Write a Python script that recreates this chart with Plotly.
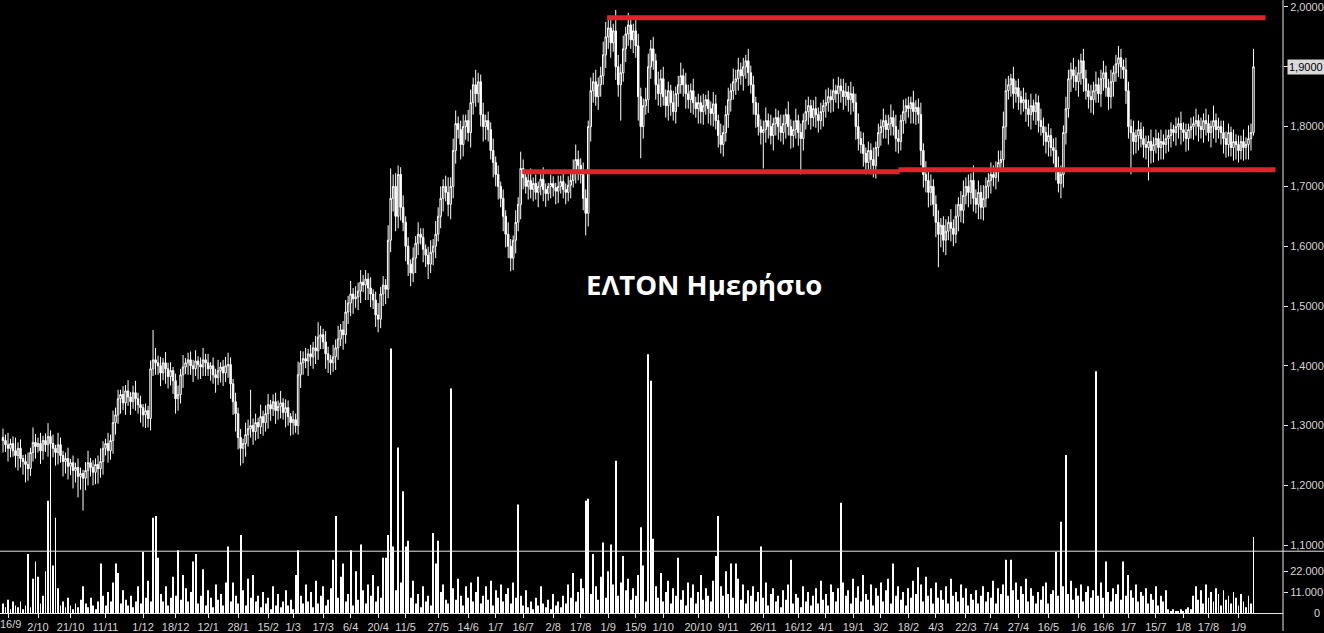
import plotly.graph_objects as go

# ---------------- data (prices in thousandths of a euro, volume in thousands) ----------------
first_open = 1280

close = [
    # 2019 Q4
    1275, 1268, 1262, 1270, 1258, 1250, 1262, 1245, 1240, 1235, 1228, 1255, 1272,
    1265, 1270, 1258, 1275, 1268, 1282, 1270, 1262, 1255, 1268, 1250, 1240, 1245, 1232,
    1238, 1225, 1230, 1215, 1220, 1212, 1225, 1238, 1230, 1222, 1235, 1228,
    1240, 1262, 1270, 1258, 1275, 1305, 1318,
    1345, 1352, 1338, 1358, 1348, 1340, 1355, 1345, 1335, 1330, 1318, 1325, 1312,
    1395, 1410, 1405, 1400, 1388, 1405, 1395, 1382, 1392, 1375, 1345, 1352,
    1385, 1398, 1405, 1410, 1400, 1395, 1408, 1402, 1398, 1410, 1405, 1395, 1400, 1385,
    1380, 1392, 1398, 1388, 1400, 1402,
    1370, 1340, 1320, 1280, 1262, 1270, 1285, 1295, 1300, 1290, 1305, 1298,
    # 2020 H1
    1315, 1305, 1320, 1335, 1328, 1340, 1325, 1332, 1338, 1322, 1330,
    1315, 1305, 1310, 1300, 1385, 1405, 1412, 1408,
    1420, 1415, 1430, 1425, 1448, 1452, 1440, 1420, 1410, 1405, 1415,
    1430, 1445, 1460, 1452, 1490, 1505, 1520, 1512,
    1515, 1525, 1540, 1535, 1545, 1530, 1520, 1510, 1485, 1478, 1520, 1535, 1528,
    1610, 1680, 1700, 1650, 1720, 1665, 1640, 1600, 1570, 1555,
    1580, 1605, 1620, 1615, 1595, 1585, 1570, 1590, 1600,
    1620, 1650, 1680, 1700, 1690, 1670, 1700, 1760, 1805,
    1795, 1770, 1800, 1810, 1790, 1840, 1870, 1855, 1875,
    1820, 1800, 1810, 1795, 1760, 1740, 1720, 1700, 1680,
    1650, 1620, 1600, 1580, 1610, 1640, 1670,
    # 2020 H2
    1730, 1715,
    1700, 1710, 1695, 1705, 1690, 1700, 1712, 1695, 1688, 1700, 1705, 1698, 1692, 1700,
    1708, 1695, 1690, 1702, 1710,
    1725, 1745, 1735, 1720, 1680, 1655, 1800,
    1860, 1875, 1850, 1870, 1885, 1920, 1950, 1965, 1940, 1960,
    1900, 1870, 1890, 1930, 1955, 1970, 1945, 1960, 1935,
    1850, 1800, 1835, 1845, 1900, 1930, 1910, 1870, 1855, 1880,
    1850, 1835, 1860, 1840, 1825, 1855, 1870, 1885,
    1870, 1855, 1845, 1860, 1840,
    1830, 1840, 1825, 1835, 1845, 1830, 1822, 1838,
    1810, 1785, 1770, 1790, 1820, 1845, 1860, 1875,
    1880, 1895, 1885, 1900, 1910, 1890, 1870,
    1840, 1820, 1800, 1790, 1795, 1810, 1800, 1785, 1805, 1815, 1800,
    # 2021 H1
    1790, 1805, 1820, 1800, 1785, 1795, 1810, 1790, 1780,
    1810, 1825, 1835, 1815, 1830, 1820, 1810, 1825, 1835,
    1840, 1850, 1845, 1860, 1855, 1868, 1860, 1850, 1858, 1845, 1855, 1840,
    1800, 1780, 1770, 1755, 1740, 1760, 1745, 1735, 1765,
    1790, 1800, 1810, 1795, 1805, 1815, 1800, 1780, 1775,
    1810, 1825, 1835, 1830, 1840, 1825, 1832, 1820,
    1760, 1720, 1710, 1690, 1700, 1670, 1640, 1620, 1635, 1610,
    1625, 1640, 1630, 1620, 1650, 1670, 1660, 1685,
    1700, 1690, 1710, 1680, 1670, 1690, 1665, 1680, 1700,
    1710, 1720, 1715, 1730, 1740, 1745, 1800, 1860,
    1870, 1880, 1855, 1865, 1850, 1840, 1845, 1830, 1820, 1835, 1825, 1840, 1810,
    # 2021 H2
    1800, 1790, 1775, 1785, 1765, 1760, 1730, 1705, 1720, 1790, 1830,
    1880, 1895, 1885, 1875, 1890, 1910, 1880, 1860, 1850, 1845, 1860,
    1870, 1855, 1880, 1890, 1865, 1850, 1875, 1890, 1905, 1915, 1900, 1895,
    1860, 1800, 1790, 1775, 1785, 1795, 1780, 1770,
    1765, 1775, 1760, 1770, 1780, 1765, 1775, 1770, 1780,
    1785, 1795, 1790, 1800, 1805, 1795, 1790, 1780, 1795, 1800,
    1805, 1810, 1800, 1795, 1810, 1805, 1790, 1800, 1810, 1795, 1800, 1790,
    1780, 1770, 1790, 1765, 1775, 1770, 1760, 1775, 1765, 1770, 1780, 1790,
    1900,
]

wick_up = [
    15, 10, 20, 8, 12, 22, 10, 15, 6, 12, 20, 8, 25, 14, 10, 18, 8, 12, 22, 10, 15, 6, 20, 12, 8,
    10, 18, 6, 12, 8, 15, 10, 6, 14, 20, 8, 12, 10, 15, 22, 12, 8, 18, 10, 20, 12, 15, 8, 14, 10,
    18, 8, 12, 20, 10, 15, 6, 12, 8, 14, 50, 20, 12, 15, 8, 18, 10, 14, 6, 12, 15, 10, 20, 8, 12,
    14, 10, 18, 8, 12, 20, 10, 15, 6, 14, 10, 18, 8, 12, 15, 20, 12, 8, 15, 10, 14, 8, 20, 15, 60,
    12, 15, 8, 20, 10, 14, 18, 8, 12, 15, 10, 20, 8, 14, 12, 6, 15, 10, 22, 20, 12, 18, 8, 15, 10,
    20, 25, 15, 10, 18, 12, 8, 20, 14, 22, 10, 15, 20, 12, 22, 10, 18, 14, 20, 12, 15, 10, 18, 8, 14,
    20, 12, 15, 10, 25, 50, 20, 22, 15, 12, 20, 10, 15, 8, 18, 12, 20, 10, 15, 8, 14, 20, 12, 22, 15,
    20, 12, 18, 25, 15, 20, 22, 12, 15, 20, 10, 18, 22, 12, 25, 15, 12, 20, 10, 15, 12, 20, 10, 15, 8,
    15, 10, 20, 12, 8, 20, 12, 28, 15, 8, 12, 20, 10, 15, 8, 12, 20, 10, 6, 15, 12, 8, 18, 10, 14,
    10, 15, 12, 20, 25, 15, 12, 20, 15, 10, 22, 15, 20, 12, 15, 22, 25, 20, 15, 12, 35, 20, 15, 22, 12,
    20, 15, 12, 22, 20, 15, 12, 20, 22, 15, 20, 12, 22, 15, 20, 12, 15, 10, 20, 12, 15, 22, 12, 20, 15,
    12, 20, 10, 15, 12, 20, 8, 15, 12, 20, 15, 10, 20, 12, 15, 20, 12, 22, 15, 20, 12, 15, 10, 20, 12,
    15, 10, 20, 12, 15, 22, 12, 20, 10, 15, 12, 20, 15, 10, 22, 12, 15, 20, 10, 15, 12, 20, 15, 10, 14,
    20, 12, 15, 10, 22, 15, 12, 20, 10, 15, 12, 20, 15, 10, 20, 12, 15, 22, 12, 20, 10, 15, 12, 20, 10,
    15, 12, 20, 10, 15, 22, 12, 20, 15, 10, 20, 12, 15, 10, 20, 12, 15, 20, 12, 22, 15, 20, 12, 15, 20,
    12, 15, 20, 10, 22, 15, 20, 12, 22, 25, 15, 20, 12, 25, 15, 20, 12, 22, 15, 12, 20, 15, 12, 20, 15,
    25, 20, 15, 8, 20, 12, 15, 10, 20, 12, 15, 20, 10, 15, 12, 20, 15, 10, 20, 12, 15, 22, 20, 15, 12,
    20, 15, 12, 20, 15, 22, 12, 20, 15, 12, 20, 15, 22, 12, 15, 20, 12, 15, 20, 12, 15, 20, 15, 12, 20,
    15, 12, 20, 10, 15, 12, 20, 15, 10, 20, 12, 15, 10, 20, 12, 15, 10, 12, 8, 15, 10, 20, 12, 15, 10,
    15, 12, 20, 10, 15, 12, 20, 15, 10, 25, 12, 15, 10, 20, 12, 15, 10, 20, 12, 15, 10, 20, 12, 22, 15,
    30,
]

wick_dn = [
    20, 12, 22, 15, 10, 20, 25, 15, 22, 30, 20, 12, 15, 20, 10, 22, 15, 12, 20, 25, 15, 22, 20, 12, 25,
    20, 22, 15, 30, 20, 35, 22, 54, 20, 25, 15, 22, 20, 25, 15, 22, 12, 20, 15, 22, 20, 15, 25, 12, 20,
    15, 22, 12, 20, 15, 25, 20, 22, 15, 20, 12, 20, 15, 22, 12, 25, 20, 15, 22, 25, 20, 15, 22, 12, 20,
    15, 22, 12, 25, 20, 15, 22, 12, 20, 15, 25, 12, 20, 22, 15, 20, 25, 22, 30, 20, 29, 25, 22, 20, 15,
    22, 15, 20, 12, 22, 15, 25, 20, 12, 22, 15, 20, 12, 25, 15, 22, 20, 12, 15, 22, 20, 12, 25, 15, 20,
    22, 15, 20, 12, 25, 22, 20, 15, 22, 20, 12, 25, 15, 20, 22, 25, 15, 22, 20, 12, 25, 20, 22, 15, 20,
    22, 15, 20, 25, 15, 20, 22, 25, 20, 22, 15, 25, 20, 22, 15, 25, 20, 12, 22, 20, 25, 15, 22, 20, 12,
    20, 22, 15, 20, 25, 20, 22, 15, 25, 20, 22, 15, 25, 20, 22, 15, 20, 25, 22, 20, 15, 25, 20, 22, 15,
    25, 22, 20, 22, 20, 22, 15, 25, 20, 12, 22, 15, 20, 12, 25, 15, 20, 22, 12, 20, 15, 22, 20, 12, 15,
    20, 15, 22, 12, 20, 25, 15, 20, 37, 22, 25, 20, 15, 22, 20, 15, 22, 20, 25, 15, 22, 20, 60, 15, 22,
    20, 15, 22, 20, 40, 53, 20, 15, 22, 20, 15, 25, 20, 22, 15, 20, 25, 22, 15, 20, 22, 15, 20, 25, 15,
    22, 20, 15, 25, 20, 22, 15, 25, 20, 22, 15, 20, 15, 20, 15, 22, 20, 15, 22, 20, 15, 25, 20, 22, 15,
    20, 22, 15, 20, 60, 22, 20, 15, 25, 20, 22, 15, 20, 25, 15, 22, 20, 15, 22, 60, 20, 15, 22, 20, 15,
    22, 20, 15, 25, 20, 15, 22, 20, 15, 25, 20, 22, 15, 20, 25, 15, 22, 20, 15, 22, 20, 15, 25, 20, 22,
    15, 22, 20, 15, 25, 20, 15, 22, 20, 15, 22, 20, 15, 25, 20, 22, 15, 25, 22, 20, 25, 22, 20, 25, 55,
    22, 20, 25, 15, 22, 20, 15, 25, 20, 22, 15, 25, 20, 22, 15, 25, 20, 22, 15, 20, 22, 15, 20, 22, 15,
    20, 22, 15, 20, 25, 15, 22, 20, 15, 22, 20, 25, 15, 22, 20, 15, 22, 20, 25, 15, 22, 20, 15, 25, 22,
    20, 15, 22, 20, 15, 25, 20, 22, 15, 20, 22, 25, 20, 15, 22, 20, 15, 22, 20, 25, 15, 22, 20, 15, 22,
    20, 70, 22, 20, 25, 15, 22, 20, 55, 22, 20, 15, 22, 20, 25, 15, 22, 20, 15, 22, 20, 25, 15, 22, 20,
    15, 22, 20, 25, 15, 22, 20, 15, 25, 20, 22, 15, 20, 25, 22, 20, 15, 22, 25, 20, 15, 22, 20, 25, 20,
    5,
]

volume_k = [
    5, 3, 7, 2, 6, 4, 3, 6, 2, 4, 31, 3, 18, 27, 19, 5, 9, 22, 59, 83, 25, 50, 13, 4, 6,
    3, 8, 4, 2, 5, 3, 7, 14, 5, 3, 8, 4, 2, 6, 26, 9, 4, 11, 6, 16, 26, 21, 5, 12, 7,
    4, 9, 3, 6, 14, 5, 32, 8, 17, 6, 50, 51, 29, 10, 6, 14, 4, 8, 19, 9, 33, 7, 20, 13, 6,
    11, 27, 31, 5, 9, 23, 4, 12, 8, 3, 15, 7, 10, 4, 16, 35, 6, 16, 9, 5, 41, 12, 4, 18, 8,
    20, 6, 9, 3, 11, 5, 8, 2, 14, 4, 10, 3, 6, 12, 4, 7, 2, 20, 33, 9, 5, 15, 6, 11, 3,
    17, 5, 9, 14, 4, 7, 13, 28, 51, 8, 19, 26, 6, 10, 33, 4, 22, 7, 36, 12, 5, 15, 9, 20, 6,
    14, 8, 29, 29, 41, 139, 35, 12, 87, 16, 64, 35, 38, 8, 17, 5, 10, 3, 14, 6, 9, 4, 42, 26, 38,
    11, 15, 7, 5, 118, 13, 7, 18, 9, 4, 14, 8, 16, 6, 11, 19, 5, 9, 14, 7, 17, 4, 12, 8, 15,
    6, 10, 13, 5, 16, 8, 57, 9, 4, 12, 3, 6, 2, 8, 4, 14, 5, 3, 7, 2, 10, 4, 6, 3, 9,
    5, 15, 8, 21, 6, 11, 18, 13, 59, 60, 10, 31, 14, 7, 19, 37, 8, 22, 36, 15, 80, 9, 16, 30, 12,
    18, 7, 13, 9, 20, 45, 25, 6, 136, 122, 39, 14, 8, 21, 6, 11, 17, 5, 13, 9, 29, 7, 12, 4, 16,
    8, 15, 5, 11, 20, 7, 13, 9, 6, 17, 30, 51, 14, 9, 22, 10, 26, 8, 26, 18, 7, 15, 5, 12, 9,
    14, 6, 11, 35, 8, 16, 4, 10, 13, 6, 9, 3, 12, 7, 15, 28, 5, 10, 8, 3, 14, 6, 11, 4, 9,
    13, 5, 17, 7, 10, 4, 15, 11, 6, 13, 58, 16, 9, 12, 5, 18, 8, 14, 6, 20, 10, 7, 15, 4, 13,
    9, 16, 6, 12, 18, 5, 26, 9, 14, 7, 11, 4, 13, 8, 17, 10, 24, 15, 6, 19, 9, 13, 5, 16, 8,
    12, 7, 14, 5, 18, 9, 11, 6, 15, 8, 13, 4, 10, 7, 12, 5, 9, 14, 6, 11, 8, 17, 5, 13, 10,
    15, 28, 9, 28, 12, 16, 7, 14, 10, 18, 6, 13, 9, 5, 11, 7, 14, 16, 5, 10, 12, 32, 9, 48, 14,
    83, 10, 17, 7, 13, 9, 15, 6, 11, 14, 8, 12, 127, 9, 16, 8, 27, 11, 6, 13, 10, 15, 7, 27, 9,
    20, 12, 8, 15, 6, 11, 9, 13, 5, 10, 7, 14, 4, 9, 6, 12, 2, 1, 2, 1, 1, 2, 1, 2, 3,
    2, 9, 14, 7, 12, 5, 15, 8, 11, 6, 13, 10, 4, 12, 7, 9, 5, 11, 8, 4, 10, 6, 3, 9, 5,
    40,
]

tick_days = [2, 14, 27, 41, 56, 69, 82, 94, 106, 116, 128, 139, 150, 161, 174, 186, 197,
             208, 220, 231, 242, 253, 264, 278, 290, 304, 318, 329, 340, 351, 362, 373,
             385, 395, 406, 418, 430, 440, 450, 461, 472, 482, 494]
tick_labels = ["16/9", "2/10", "21/10", "11/11", "1/12", "18/12", "12/1", "28/1", "15/2",
               "1/3", "17/3", "6/4", "20/4", "11/5", "27/5", "14/6", "1/7", "16/7", "2/8",
               "17/8", "1/9", "15/9", "1/10", "20/10", "9/11", "26/11", "16/12", "4/1",
               "19/1", "3/2", "18/2", "4/3", "22/3", "7/4", "27/4", "16/5", "1/6", "16/6",
               "1/7", "15/7", "1/8", "17/8", "1/9"]

price_ticks = [1.1, 1.2, 1.3, 1.4, 1.5, 1.6, 1.7, 1.8, 1.9, 2.0]
price_labels = ["1,1000", "1,2000", "1,3000", "1,4000", "1,5000", "1,6000", "1,7000",
                "1,8000", "1,9000", "2,0000"]
vol_ticks = [11000, 22000]
vol_labels = ["11.000", "22.000"]

resistance = 1.982          # upper red line
support_a = 1.7245          # lower red line, left part
support_b = 1.728           # lower red line, right part
last_price = 1.9

# ---------------- build OHLC ----------------
n = len(close)
days = list(range(n))
c = [v / 1000 for v in close]
o = [first_open / 1000] + c[:-1]
h = [max(o[i], c[i]) + wick_up[i] / 1000 for i in range(n)]
lo = [min(o[i], c[i]) - wick_dn[i] / 1000 for i in range(n)]
vol = [v * 1000 for v in volume_k]

W, H = 1324, 633
PL, PR, PT, PB = 0, 41, 0, 18
plot_w = W - PL - PR     # 1283
plot_h = H - PT - PB     # 615

fig = go.Figure()

fig.add_trace(go.Bar(
    x=days, y=vol, yaxis="y2", width=0.38,
    marker=dict(color="white", line=dict(width=0)),
    hoverinfo="skip", showlegend=False,
))

fig.add_trace(go.Candlestick(
    x=days, open=o, high=h, low=lo, close=c,
    increasing=dict(line=dict(color="white", width=1), fillcolor="black"),
    decreasing=dict(line=dict(color="white", width=1), fillcolor="white"),
    whiskerwidth=0, showlegend=False,
))

tick_font = dict(family="Liberation Sans", size=11, color="#d6d6d6")

red = "#e3232c"
shapes = [
    dict(type="line", xref="x", yref="y", x0=241.6, x1=504.8, y0=resistance, y1=resistance,
         line=dict(color=red, width=5)),
    dict(type="line", xref="x", yref="y", x0=207.6, x1=358.5, y0=support_a, y1=support_a,
         line=dict(color=red, width=5)),
    dict(type="line", xref="x", yref="y", x0=358.0, x1=508.8, y0=support_b, y1=support_b,
         line=dict(color=red, width=5)),
    # pane separator
    dict(type="line", xref="paper", yref="paper", x0=0, x1=W / plot_w,
         y0=(plot_h - 553) / plot_h, y1=(plot_h - 553) / plot_h,
         line=dict(color="#e8e8e8", width=1)),
    # right axis line reaching the bottom
    dict(type="line", xref="paper", yref="paper", x0=1, x1=1, y0=-PB / plot_h, y1=1,
         line=dict(color="#e8e8e8", width=1)),
]

annotations = [
    dict(text="<b>ΕΛΤΟΝ Ημερήσιο</b>", xref="paper", yref="paper",
         x=704 / plot_w, y=(plot_h - 285) / plot_h, xanchor="center", yanchor="middle",
         showarrow=False, font=dict(family="Open Sans", size=27.5, color="white")),
    dict(text="1,9000", xref="paper", yref="y", x=1 + 4 / plot_w, y=last_price,
         xanchor="left", yanchor="middle", showarrow=False, bgcolor="#d9d9d9",
         borderpad=1, font=dict(family="Liberation Sans", size=11, color="black")),
    dict(text="0", xref="paper", yref="y2", x=1322 / plot_w, y=0, xanchor="right",
         yanchor="middle", showarrow=False, font=tick_font),
    dict(text=tick_labels[0], xref="paper", yref="paper", x=0, y=-11 / plot_h,
         xanchor="left", yanchor="middle", xshift=-2, showarrow=False,
         font=tick_font),
]

fig.update_layout(
    width=W, height=H,
    margin=dict(l=PL, r=PR, t=PT, b=PB, pad=0),
    paper_bgcolor="black", plot_bgcolor="black",
    showlegend=False, boxgap=0.15,
    xaxis=dict(
        range=[-1.2, 511.8], tickmode="array", tickvals=tick_days,
        ticktext=[""] + tick_labels[1:],
        ticks="outside", ticklen=4, tickcolor="#e8e8e8", tickfont=tick_font,
        showgrid=False, zeroline=False, showline=True, linecolor="#e8e8e8", linewidth=1,
        rangeslider=dict(visible=False), fixedrange=True,
    ),
    yaxis=dict(
        side="right", range=[2.0 - (plot_h - 7) / 600, 2.0 + 7 / 600],
        tickmode="array", tickvals=price_ticks, ticktext=price_labels,
        ticks="outside", ticklen=4, tickcolor="#e8e8e8", tickfont=tick_font,
        showgrid=False, zeroline=False, showline=False, fixedrange=True,
    ),
    yaxis2=dict(
        overlaying="y", side="right", range=[0, plot_h * 11000 / 21],
        tickmode="array", tickvals=vol_ticks, ticktext=vol_labels,
        ticks="outside", ticklen=4, tickcolor="#e8e8e8", tickfont=tick_font,
        showgrid=False, zeroline=False, showline=False, fixedrange=True,
    ),
    shapes=shapes, annotations=annotations,
)

fig.write_html("out.html", config={"displayModeBar": False},
               post_script="document.body.style.margin='0';document.body.style.background='black';")
